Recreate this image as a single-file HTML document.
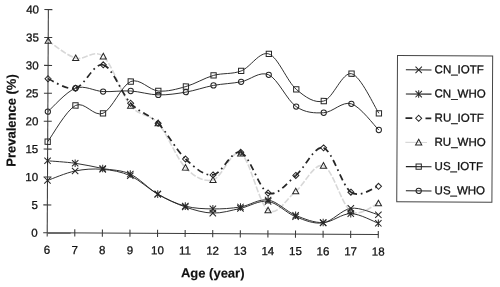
<!DOCTYPE html>
<html><head><meta charset="utf-8"><style>
html,body{margin:0;padding:0;background:#fff;width:500px;height:287px;overflow:hidden;}
svg{display:block;filter:grayscale(1);}
</style></head><body>
<svg width="500" height="287" viewBox="0 0 500 287"><rect width="500" height="287" fill="#fff"/><g transform="rotate(0.3 250.0 143.0)"><g stroke="#3a3a3a" stroke-width="1.05"><line x1="47.67" y1="10.65" x2="47.67" y2="237.45" /><line x1="47.67" y1="233.85" x2="378.75" y2="233.85" /><line x1="48.17" y1="234.10" x2="71.17" y2="234.10" stroke="#6a6a6a" stroke-width="1.7"/><line x1="43.67" y1="233.85" x2="47.67" y2="233.85" /><line x1="43.67" y1="205.95" x2="51.67" y2="205.95" /><line x1="43.67" y1="178.05" x2="51.67" y2="178.05" /><line x1="43.67" y1="150.15" x2="51.67" y2="150.15" /><line x1="43.67" y1="122.25" x2="51.67" y2="122.25" /><line x1="43.67" y1="94.35" x2="51.67" y2="94.35" /><line x1="43.67" y1="66.45" x2="51.67" y2="66.45" /><line x1="43.67" y1="38.55" x2="51.67" y2="38.55" /><line x1="43.67" y1="10.65" x2="51.67" y2="10.65" /><line x1="75.26" y1="230.25" x2="75.26" y2="237.45" /><line x1="102.85" y1="230.25" x2="102.85" y2="237.45" /><line x1="130.44" y1="230.25" x2="130.44" y2="237.45" /><line x1="158.03" y1="230.25" x2="158.03" y2="237.45" /><line x1="185.62" y1="230.25" x2="185.62" y2="237.45" /><line x1="213.21" y1="230.25" x2="213.21" y2="237.45" /><line x1="240.80" y1="230.25" x2="240.80" y2="237.45" /><line x1="268.39" y1="230.25" x2="268.39" y2="237.45" /><line x1="295.98" y1="230.25" x2="295.98" y2="237.45" /><line x1="323.57" y1="230.25" x2="323.57" y2="237.45" /><line x1="351.16" y1="230.25" x2="351.16" y2="237.45" /><line x1="378.75" y1="230.25" x2="378.75" y2="237.45" /></g>
<g font-family="Liberation Sans" font-size="11.5" fill="#111" stroke="#111" stroke-width="0.28" stroke-linejoin="round"><text x="38.27" y="237.95" text-anchor="end">0</text><text x="38.27" y="210.05" text-anchor="end">5</text><text x="38.27" y="182.15" text-anchor="end">10</text><text x="38.27" y="154.25" text-anchor="end">15</text><text x="38.27" y="126.35" text-anchor="end">20</text><text x="38.27" y="98.45" text-anchor="end">25</text><text x="38.27" y="70.55" text-anchor="end">30</text><text x="38.27" y="42.65" text-anchor="end">35</text><text x="38.27" y="14.75" text-anchor="end">40</text><text x="47.67" y="254.85" text-anchor="middle">6</text><text x="75.26" y="254.85" text-anchor="middle">7</text><text x="102.85" y="254.85" text-anchor="middle">8</text><text x="130.44" y="254.85" text-anchor="middle">9</text><text x="158.03" y="254.85" text-anchor="middle">10</text><text x="185.62" y="254.85" text-anchor="middle">11</text><text x="213.21" y="254.85" text-anchor="middle">12</text><text x="240.80" y="254.85" text-anchor="middle">13</text><text x="268.39" y="254.85" text-anchor="middle">14</text><text x="295.98" y="254.85" text-anchor="middle">15</text><text x="323.57" y="254.85" text-anchor="middle">16</text><text x="351.16" y="254.85" text-anchor="middle">17</text><text x="378.75" y="254.85" text-anchor="middle">18</text></g>
<text x="213.40" y="277.69" text-anchor="middle" font-family="Liberation Sans" font-weight="bold" font-size="13" fill="#111" stroke="#111" stroke-width="0.15">Age (year)</text>
<text transform="translate(15.59,121.73) rotate(-90)" text-anchor="middle" font-family="Liberation Sans" font-weight="bold" font-size="13" fill="#111" stroke="#111" stroke-width="0.15">Prevalence (%)</text>
<path d="M47.67,41.88 C52.27,44.74 66.06,56.46 75.26,59.02 C84.46,61.57 93.65,49.30 102.85,57.20 C112.05,65.10 121.24,95.29 130.44,106.39 C139.64,117.50 148.83,113.55 158.03,123.81 C167.23,134.08 176.42,158.61 185.62,167.99 C194.82,177.37 204.01,182.53 213.21,180.11 C222.41,177.69 231.60,148.47 240.80,153.48 C250.00,158.50 259.19,203.93 268.39,210.20 C277.59,216.47 286.78,198.59 295.98,191.10 C305.18,183.62 314.37,162.06 323.57,165.31 C332.77,168.57 341.96,204.38 351.16,210.61 C360.36,216.83 374.15,203.98 378.75,202.66" fill="none" stroke="#d8d8d8" stroke-width="1.6" stroke-dasharray="6,1.8"/>
<path d="M47.67,79.79 C52.27,81.34 66.06,91.49 75.26,89.12" fill="none" stroke="#262626" stroke-width="1.75" stroke-dasharray="6.5,3.8,1.7,3.8"/>
<path d="M75.26,89.12 C84.46,86.75 93.65,63.10 102.85,65.56" fill="none" stroke="#262626" stroke-width="1.75" stroke-dasharray="6.5,3.8,1.7,3.8"/>
<path d="M102.85,65.56 C112.05,68.02 121.24,94.18 130.44,103.89" fill="none" stroke="#262626" stroke-width="1.75" stroke-dasharray="6.5,3.8,1.7,3.8"/>
<path d="M130.44,103.89 C139.64,113.59 148.83,114.57 158.03,123.81" fill="none" stroke="#262626" stroke-width="1.75" stroke-dasharray="6.5,3.8,1.7,3.8"/>
<path d="M158.03,123.81 C167.23,133.06 176.42,150.80 185.62,159.35" fill="none" stroke="#262626" stroke-width="1.75" stroke-dasharray="6.5,3.8,1.7,3.8"/>
<path d="M185.62,159.35 C194.82,167.89 204.01,176.25 213.21,175.09" fill="none" stroke="#262626" stroke-width="1.75" stroke-dasharray="6.5,3.8,1.7,3.8"/>
<path d="M213.21,175.09 C222.41,173.93 231.60,149.40 240.80,152.37" fill="none" stroke="#262626" stroke-width="1.75" stroke-dasharray="6.5,3.8,1.7,3.8"/>
<path d="M240.80,152.37 C250.00,155.34 259.19,189.11 268.39,192.92" fill="none" stroke="#262626" stroke-width="1.75" stroke-dasharray="6.5,3.8,1.7,3.8"/>
<path d="M268.39,192.92 C277.59,196.73 286.78,182.79 295.98,175.22" fill="none" stroke="#262626" stroke-width="1.75" stroke-dasharray="6.5,3.8,1.7,3.8"/>
<path d="M295.98,175.22 C305.18,167.64 314.37,144.74 323.57,147.47" fill="none" stroke="#262626" stroke-width="1.75" stroke-dasharray="6.5,3.8,1.7,3.8"/>
<path d="M323.57,147.47 C332.77,150.21 341.96,185.29 351.16,191.65" fill="none" stroke="#262626" stroke-width="1.75" stroke-dasharray="6.5,3.8,1.7,3.8"/>
<path d="M351.16,191.65 C360.36,198.01 374.15,186.65 378.75,185.65" fill="none" stroke="#262626" stroke-width="1.75" stroke-dasharray="6.5,3.8,1.7,3.8"/>
<path d="M47.67,142.79 C52.27,136.72 66.06,111.19 75.26,106.40 C84.46,101.62 93.65,118.11 102.85,114.07 C112.05,110.02 121.24,85.91 130.44,82.14 C139.64,78.38 148.83,90.69 158.03,91.48 C167.23,92.26 176.42,89.52 185.62,86.87 C194.82,84.22 204.01,78.23 213.21,75.58 C222.41,72.93 231.60,74.60 240.80,70.97 C250.00,67.35 259.19,50.81 268.39,53.82 C277.59,56.84 286.78,81.28 295.98,89.08 C305.18,96.89 314.37,103.29 323.57,100.64 C332.77,97.99 341.96,71.19 351.16,73.18 C360.36,75.18 374.15,106.05 378.75,112.62" fill="none" stroke="#262626" stroke-width="0.95"/>
<path d="M47.67,112.68 C52.27,108.76 66.06,92.52 75.26,89.12 C84.46,85.73 93.65,91.91 102.85,92.32 C112.05,92.74 121.24,91.11 130.44,91.62 C139.64,92.13 148.83,95.24 158.03,95.38 C167.23,95.52 176.42,94.07 185.62,92.45 C194.82,90.82 204.01,87.38 213.21,85.61 C222.41,83.85 231.60,83.66 240.80,81.84 C250.00,80.03 259.19,70.64 268.39,74.73 C277.59,78.82 286.78,100.09 295.98,106.36 C305.18,112.63 314.37,112.87 323.57,112.35 C332.77,111.84 341.96,100.46 351.16,103.29 C360.36,106.12 374.15,125.00 378.75,129.35" fill="none" stroke="#262626" stroke-width="0.95"/>
<path d="M47.67,181.53 C52.27,179.93 66.06,173.82 75.26,171.91 C84.46,170.00 93.65,169.35 102.85,170.09 C112.05,170.84 121.24,172.27 130.44,176.36 C139.64,180.45 148.83,189.46 158.03,194.61 C167.23,199.77 176.42,204.18 185.62,207.29 C194.82,210.40 204.01,213.10 213.21,213.28 C222.41,213.46 231.60,210.40 240.80,208.40 C250.00,206.40 259.19,199.94 268.39,201.28 C277.59,202.63 286.78,212.94 295.98,216.47 C305.18,220.00 314.37,223.90 323.57,222.46 C332.77,221.02 341.96,209.21 351.16,207.82 C360.36,206.42 374.15,213.04 378.75,214.09" fill="none" stroke="#262626" stroke-width="0.95"/>
<path d="M47.67,161.85 C52.27,162.24 66.06,162.93 75.26,164.16 C84.46,165.40 93.65,167.50 102.85,169.26 C112.05,171.01 121.24,170.46 130.44,174.69 C139.64,178.91 148.83,189.32 158.03,194.61 C167.23,199.91 176.42,204.04 185.62,206.46 C194.82,208.87 204.01,209.01 213.21,209.10 C222.41,209.19 231.60,208.54 240.80,207.00 C250.00,205.47 259.19,198.54 268.39,199.89 C277.59,201.24 286.78,211.36 295.98,215.08 C305.18,218.79 314.37,222.51 323.57,222.18 C332.77,221.85 341.96,213.04 351.16,213.12 C360.36,213.19 374.15,221.03 378.75,222.62" fill="none" stroke="#262626" stroke-width="0.95"/>
<path d="M47.67,38.78L50.77,44.36L44.57,44.36Z" stroke="#262626" stroke-width="1.0" fill="none"/>
<path d="M75.26,55.92L78.36,61.50L72.16,61.50Z" stroke="#262626" stroke-width="1.0" fill="none"/>
<path d="M102.85,54.10L105.95,59.68L99.75,59.68Z" stroke="#262626" stroke-width="1.0" fill="none"/>
<path d="M130.44,103.29L133.54,108.87L127.34,108.87Z" stroke="#262626" stroke-width="1.0" fill="none"/>
<path d="M158.03,120.71L161.13,126.29L154.93,126.29Z" stroke="#262626" stroke-width="1.0" fill="none"/>
<path d="M185.62,164.89L188.72,170.47L182.52,170.47Z" stroke="#262626" stroke-width="1.0" fill="none"/>
<path d="M213.21,177.01L216.31,182.59L210.11,182.59Z" stroke="#262626" stroke-width="1.0" fill="none"/>
<path d="M240.80,150.38L243.90,155.96L237.70,155.96Z" stroke="#262626" stroke-width="1.0" fill="none"/>
<path d="M268.39,207.10L271.49,212.68L265.29,212.68Z" stroke="#262626" stroke-width="1.0" fill="none"/>
<path d="M295.98,188.00L299.08,193.58L292.88,193.58Z" stroke="#262626" stroke-width="1.0" fill="none"/>
<path d="M323.57,162.21L326.67,167.79L320.47,167.79Z" stroke="#262626" stroke-width="1.0" fill="none"/>
<path d="M351.16,207.51L354.26,213.09L348.06,213.09Z" stroke="#262626" stroke-width="1.0" fill="none"/>
<path d="M378.75,199.56L381.85,205.14L375.65,205.14Z" stroke="#262626" stroke-width="1.0" fill="none"/>
<path d="M47.67,76.79L50.67,79.79L47.67,82.79L44.67,79.79Z" stroke="#262626" stroke-width="1.0" fill="none"/>
<path d="M75.26,86.12L78.26,89.12L75.26,92.12L72.26,89.12Z" stroke="#262626" stroke-width="1.0" fill="none"/>
<path d="M102.85,62.56L105.85,65.56L102.85,68.56L99.85,65.56Z" stroke="#262626" stroke-width="1.0" fill="none"/>
<path d="M130.44,100.89L133.44,103.89L130.44,106.89L127.44,103.89Z" stroke="#262626" stroke-width="1.0" fill="none"/>
<path d="M158.03,120.81L161.03,123.81L158.03,126.81L155.03,123.81Z" stroke="#262626" stroke-width="1.0" fill="none"/>
<path d="M185.62,156.35L188.62,159.35L185.62,162.35L182.62,159.35Z" stroke="#262626" stroke-width="1.0" fill="none"/>
<path d="M213.21,172.09L216.21,175.09L213.21,178.09L210.21,175.09Z" stroke="#262626" stroke-width="1.0" fill="none"/>
<path d="M240.80,149.37L243.80,152.37L240.80,155.37L237.80,152.37Z" stroke="#262626" stroke-width="1.0" fill="none"/>
<path d="M268.39,189.92L271.39,192.92L268.39,195.92L265.39,192.92Z" stroke="#262626" stroke-width="1.0" fill="none"/>
<path d="M295.98,172.22L298.98,175.22L295.98,178.22L292.98,175.22Z" stroke="#262626" stroke-width="1.0" fill="none"/>
<path d="M323.57,144.47L326.57,147.47L323.57,150.47L320.57,147.47Z" stroke="#262626" stroke-width="1.0" fill="none"/>
<path d="M351.16,188.65L354.16,191.65L351.16,194.65L348.16,191.65Z" stroke="#262626" stroke-width="1.0" fill="none"/>
<path d="M378.75,182.65L381.75,185.65L378.75,188.65L375.75,185.65Z" stroke="#262626" stroke-width="1.0" fill="none"/>
<rect x="45.02" y="140.14" width="5.30" height="5.30" stroke="#262626" stroke-width="1.0" fill="none"/>
<rect x="72.61" y="103.75" width="5.30" height="5.30" stroke="#262626" stroke-width="1.0" fill="none"/>
<rect x="100.20" y="111.42" width="5.30" height="5.30" stroke="#262626" stroke-width="1.0" fill="none"/>
<rect x="127.79" y="79.49" width="5.30" height="5.30" stroke="#262626" stroke-width="1.0" fill="none"/>
<rect x="155.38" y="88.83" width="5.30" height="5.30" stroke="#262626" stroke-width="1.0" fill="none"/>
<rect x="182.97" y="84.22" width="5.30" height="5.30" stroke="#262626" stroke-width="1.0" fill="none"/>
<rect x="210.56" y="72.93" width="5.30" height="5.30" stroke="#262626" stroke-width="1.0" fill="none"/>
<rect x="238.15" y="68.32" width="5.30" height="5.30" stroke="#262626" stroke-width="1.0" fill="none"/>
<rect x="265.74" y="51.17" width="5.30" height="5.30" stroke="#262626" stroke-width="1.0" fill="none"/>
<rect x="293.33" y="86.43" width="5.30" height="5.30" stroke="#262626" stroke-width="1.0" fill="none"/>
<rect x="320.92" y="97.99" width="5.30" height="5.30" stroke="#262626" stroke-width="1.0" fill="none"/>
<rect x="348.51" y="70.53" width="5.30" height="5.30" stroke="#262626" stroke-width="1.0" fill="none"/>
<rect x="376.10" y="109.97" width="5.30" height="5.30" stroke="#262626" stroke-width="1.0" fill="none"/>
<circle cx="47.67" cy="112.68" r="2.65" stroke="#262626" stroke-width="1.0" fill="none"/>
<circle cx="75.26" cy="89.12" r="2.65" stroke="#262626" stroke-width="1.0" fill="none"/>
<circle cx="102.85" cy="92.32" r="2.65" stroke="#262626" stroke-width="1.0" fill="none"/>
<circle cx="130.44" cy="91.62" r="2.65" stroke="#262626" stroke-width="1.0" fill="none"/>
<circle cx="158.03" cy="95.38" r="2.65" stroke="#262626" stroke-width="1.0" fill="none"/>
<circle cx="185.62" cy="92.45" r="2.65" stroke="#262626" stroke-width="1.0" fill="none"/>
<circle cx="213.21" cy="85.61" r="2.65" stroke="#262626" stroke-width="1.0" fill="none"/>
<circle cx="240.80" cy="81.84" r="2.65" stroke="#262626" stroke-width="1.0" fill="none"/>
<circle cx="268.39" cy="74.73" r="2.65" stroke="#262626" stroke-width="1.0" fill="none"/>
<circle cx="295.98" cy="106.36" r="2.65" stroke="#262626" stroke-width="1.0" fill="none"/>
<circle cx="323.57" cy="112.35" r="2.65" stroke="#262626" stroke-width="1.0" fill="none"/>
<circle cx="351.16" cy="103.29" r="2.65" stroke="#262626" stroke-width="1.0" fill="none"/>
<circle cx="378.75" cy="129.35" r="2.65" stroke="#262626" stroke-width="1.0" fill="none"/>
<path d="M44.47,178.33L50.87,184.73M44.47,184.73L50.87,178.33" stroke="#262626" stroke-width="1.0" fill="none"/>
<path d="M72.06,168.71L78.46,175.11M72.06,175.11L78.46,168.71" stroke="#262626" stroke-width="1.0" fill="none"/>
<path d="M99.65,166.89L106.05,173.29M99.65,173.29L106.05,166.89" stroke="#262626" stroke-width="1.0" fill="none"/>
<path d="M127.24,173.16L133.64,179.56M127.24,179.56L133.64,173.16" stroke="#262626" stroke-width="1.0" fill="none"/>
<path d="M154.83,191.41L161.23,197.81M154.83,197.81L161.23,191.41" stroke="#262626" stroke-width="1.0" fill="none"/>
<path d="M182.42,204.09L188.82,210.49M182.42,210.49L188.82,204.09" stroke="#262626" stroke-width="1.0" fill="none"/>
<path d="M210.01,210.08L216.41,216.48M210.01,216.48L216.41,210.08" stroke="#262626" stroke-width="1.0" fill="none"/>
<path d="M237.60,205.20L244.00,211.60M237.60,211.60L244.00,205.20" stroke="#262626" stroke-width="1.0" fill="none"/>
<path d="M265.19,198.08L271.59,204.48M265.19,204.48L271.59,198.08" stroke="#262626" stroke-width="1.0" fill="none"/>
<path d="M292.78,213.27L299.18,219.67M292.78,219.67L299.18,213.27" stroke="#262626" stroke-width="1.0" fill="none"/>
<path d="M320.37,219.26L326.77,225.66M320.37,225.66L326.77,219.26" stroke="#262626" stroke-width="1.0" fill="none"/>
<path d="M347.96,204.62L354.36,211.02M347.96,211.02L354.36,204.62" stroke="#262626" stroke-width="1.0" fill="none"/>
<path d="M375.55,210.89L381.95,217.29M375.55,217.29L381.95,210.89" stroke="#262626" stroke-width="1.0" fill="none"/>
<path d="M44.47,158.65L50.87,165.05M44.47,165.05L50.87,158.65M47.67,158.05L47.67,165.65" stroke="#262626" stroke-width="1.0" fill="none"/>
<path d="M72.06,160.96L78.46,167.36M72.06,167.36L78.46,160.96M75.26,160.36L75.26,167.96" stroke="#262626" stroke-width="1.0" fill="none"/>
<path d="M99.65,166.06L106.05,172.46M99.65,172.46L106.05,166.06M102.85,165.46L102.85,173.06" stroke="#262626" stroke-width="1.0" fill="none"/>
<path d="M127.24,171.49L133.64,177.89M127.24,177.89L133.64,171.49M130.44,170.89L130.44,178.49" stroke="#262626" stroke-width="1.0" fill="none"/>
<path d="M154.83,191.41L161.23,197.81M154.83,197.81L161.23,191.41M158.03,190.81L158.03,198.41" stroke="#262626" stroke-width="1.0" fill="none"/>
<path d="M182.42,203.26L188.82,209.66M182.42,209.66L188.82,203.26M185.62,202.66L185.62,210.26" stroke="#262626" stroke-width="1.0" fill="none"/>
<path d="M210.01,205.90L216.41,212.30M210.01,212.30L216.41,205.90M213.21,205.30L213.21,212.90" stroke="#262626" stroke-width="1.0" fill="none"/>
<path d="M237.60,203.80L244.00,210.20M237.60,210.20L244.00,203.80M240.80,203.20L240.80,210.80" stroke="#262626" stroke-width="1.0" fill="none"/>
<path d="M265.19,196.69L271.59,203.09M265.19,203.09L271.59,196.69M268.39,196.09L268.39,203.69" stroke="#262626" stroke-width="1.0" fill="none"/>
<path d="M292.78,211.88L299.18,218.28M292.78,218.28L299.18,211.88M295.98,211.28L295.98,218.88" stroke="#262626" stroke-width="1.0" fill="none"/>
<path d="M320.37,218.98L326.77,225.38M320.37,225.38L326.77,218.98M323.57,218.38L323.57,225.98" stroke="#262626" stroke-width="1.0" fill="none"/>
<path d="M347.96,209.92L354.36,216.32M347.96,216.32L354.36,209.92M351.16,209.32L351.16,216.92" stroke="#262626" stroke-width="1.0" fill="none"/>
<path d="M375.55,219.42L381.95,225.82M375.55,225.82L381.95,219.42M378.75,218.82L378.75,226.42" stroke="#262626" stroke-width="1.0" fill="none"/>
<rect x="397.04" y="54.73" width="95.17" height="146.30" fill="none" stroke="#454545" stroke-width="1"/><line x1="405.51" y1="68.98" x2="431.11" y2="68.98" stroke="#1e1e1e" stroke-width="1.1"/><path d="M415.11,65.78L421.51,72.18M415.11,72.18L421.51,65.78" stroke="#262626" stroke-width="1.0" fill="none"/><text x="434.21" y="72.18" font-family="Liberation Sans" font-size="11.5" fill="#111" stroke="#111" stroke-width="0.3" stroke-linejoin="round">CN_IOTF</text><line x1="405.64" y1="93.18" x2="431.24" y2="93.18" stroke="#1e1e1e" stroke-width="1.1"/><path d="M415.24,89.98L421.64,96.38M415.24,96.38L421.64,89.98M418.44,89.38L418.44,96.98" stroke="#262626" stroke-width="1.0" fill="none"/><text x="434.34" y="96.38" font-family="Liberation Sans" font-size="11.5" fill="#111" stroke="#111" stroke-width="0.3" stroke-linejoin="round">CN_WHO</text><path d="M405.37,117.38H412.17M425.37,117.38H431.17" stroke="#262626" stroke-width="1.75"/><path d="M418.57,114.38L421.57,117.38L418.57,120.38L415.57,117.38Z" stroke="#262626" stroke-width="1.0" fill="none"/><text x="434.47" y="120.58" font-family="Liberation Sans" font-size="11.5" fill="#111" stroke="#111" stroke-width="0.3" stroke-linejoin="round">RU_IOTF</text><line x1="405.39" y1="141.58" x2="426.99" y2="141.58" stroke="#d8d8d8" stroke-width="1.2"/><path d="M418.69,138.48L421.79,144.06L415.59,144.06Z" stroke="#262626" stroke-width="1.0" fill="none"/><text x="434.59" y="144.78" font-family="Liberation Sans" font-size="11.5" fill="#111" stroke="#111" stroke-width="0.3" stroke-linejoin="round">RU_WHO</text><line x1="406.02" y1="165.78" x2="431.62" y2="165.78" stroke="#1e1e1e" stroke-width="1.1"/><rect x="416.17" y="163.13" width="5.30" height="5.30" stroke="#262626" stroke-width="1.0" fill="none"/><text x="434.72" y="168.98" font-family="Liberation Sans" font-size="11.5" fill="#111" stroke="#111" stroke-width="0.3" stroke-linejoin="round">US_IOTF</text><line x1="406.15" y1="189.98" x2="431.75" y2="189.98" stroke="#1e1e1e" stroke-width="1.1"/><circle cx="418.95" cy="189.98" r="2.65" stroke="#262626" stroke-width="1.0" fill="none"/><text x="434.85" y="193.18" font-family="Liberation Sans" font-size="11.5" fill="#111" stroke="#111" stroke-width="0.3" stroke-linejoin="round">US_WHO</text></g></svg>
</body></html>
